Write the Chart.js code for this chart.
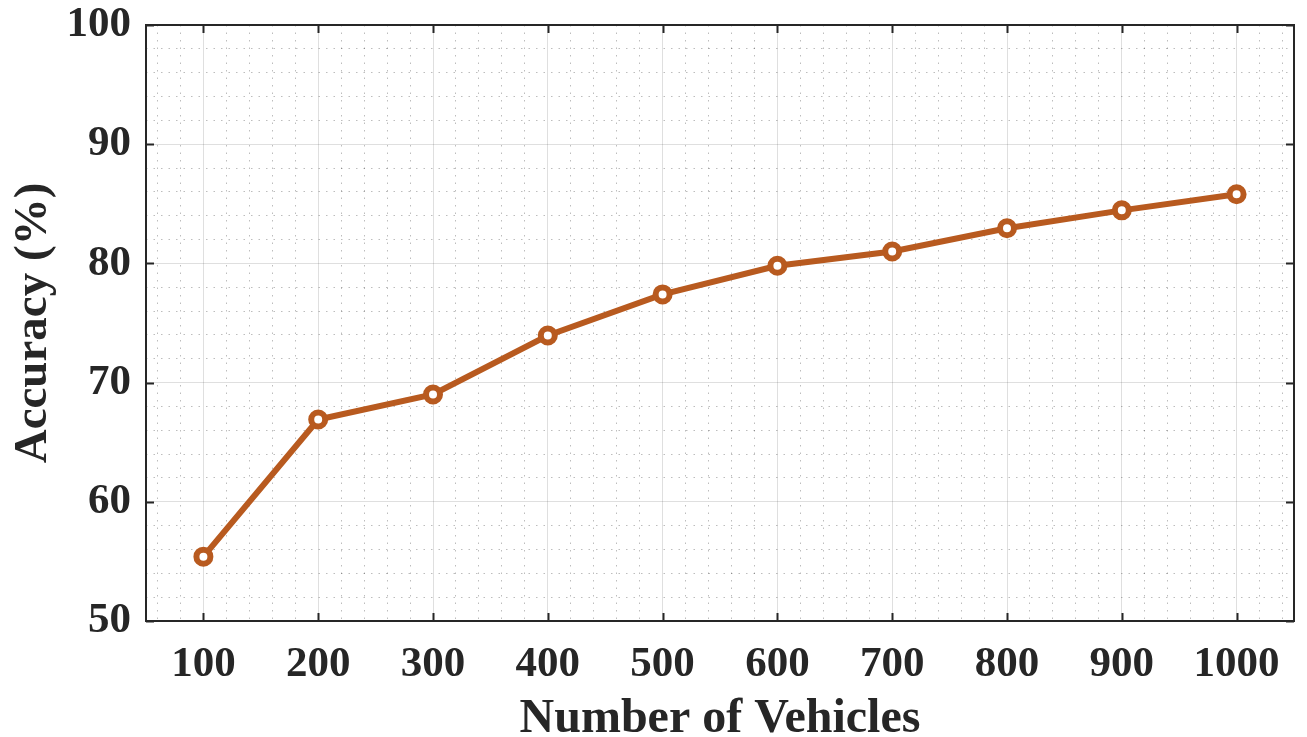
<!DOCTYPE html>
<html><head><meta charset="utf-8">
<script src="https://cdn.jsdelivr.net/npm/chart.js@4/dist/chart.umd.min.js"></script>
<style>html,body{margin:0;padding:0;background:#fff}#wrap{width:1307px;height:737px}</style>
</head><body><div id="wrap"><canvas id="c" width="1307" height="737"></canvas></div>
<script>
const vehicles = [100,200,300,400,500,600,700,800,900,1000];
const accuracy = [55.4,66.9,69.0,73.95,77.4,79.8,81.0,82.95,84.45,85.8];
const xTickLabels = [100,200,300,400,500,600,700,800,900,1000];
const yTickLabels = [50,60,70,80,90,100];
const xTitle = 'Number of Vehicles';
const yTitle = 'Accuracy (%)';

const INK = '#262626';
const LINE = '#B85A1F';
const FONT = 'Liberation Serif';

const boxPlugin = {
  id: 'box',
  beforeDatasetsDraw(chart) {
    const {ctx, chartArea: a, scales} = chart;
    ctx.save();
    ctx.strokeStyle = INK;
    ctx.lineWidth = 2;
    ctx.beginPath();
    const tl = 8;
    xTickLabels.forEach(v => {
      const px = Math.round(scales.x.getPixelForValue(v)) + 0.5;
      ctx.moveTo(px, a.bottom); ctx.lineTo(px, a.bottom - tl);
      ctx.moveTo(px, a.top); ctx.lineTo(px, a.top + tl);
    });
    yTickLabels.forEach(v => {
      const py = Math.round(scales.y.getPixelForValue(v)) + 0.5;
      ctx.moveTo(a.left, py); ctx.lineTo(a.left + tl, py);
      ctx.moveTo(a.right, py); ctx.lineTo(a.right - tl, py);
    });
    ctx.stroke();
    ctx.strokeRect(a.left, a.top, a.right - a.left, a.bottom - a.top);
    ctx.restore();
  }
};

new Chart(document.getElementById('c'), {
  type: 'line',
  data: {
    datasets: [{
      data: vehicles.map((v, i) => ({x: v, y: accuracy[i]})),
      borderColor: LINE,
      borderWidth: 6,
      pointRadius: 7,
      pointBorderWidth: 6,
      pointBackgroundColor: '#ffffff',
      pointBorderColor: LINE,
      tension: 0
    }]
  },
  options: {
    responsive: false,
    animation: false,
    layout: {padding: {top: 25, right: 5, left: 0, bottom: 0}},
    plugins: {legend: {display: false}, tooltip: {enabled: false}},
    scales: {
      x: {
        type: 'linear', min: 50, max: 1050,
        afterBuildTicks(s) { const t = []; for (let v = 60; v <= 1040; v += 20) t.push({value: v}); s.ticks = t; },
        afterFit(s) { s.height = 116; s.paddingLeft = 0; s.paddingRight = 0; },
        grid: {
          drawTicks: false,
          color: c => (c.tick && c.tick.value % 100 === 0) ? 'rgba(38,38,38,0.15)' : 'rgba(38,38,38,0.3)',
          lineWidth: 1
        },
        border: {display: false, dash: c => (c.tick && c.tick.value % 100 === 0) ? [] : [1.5, 6]},
        ticks: {
          autoSkip: false, maxRotation: 0, padding: 22,
          color: INK, font: {family: FONT, size: 43, weight: 'bold', lineHeight: 1},
          callback: v => (v % 100 === 0 && xTickLabels.includes(v)) ? String(v) : ''
        },
        title: {display: true, text: xTitle, color: INK, font: {family: FONT, size: 48, weight: 'bold', lineHeight: 1}, padding: {top: 0, bottom: -7}}
      },
      y: {
        type: 'linear', min: 50, max: 100,
        afterBuildTicks(s) { const t = []; for (let v = 50; v <= 100; v += 2) t.push({value: v}); s.ticks = t; },
        afterFit(s) { s.width = 146; s.paddingTop = 0; s.paddingBottom = 0; },
        grid: {
          drawTicks: false,
          color: c => (c.tick && c.tick.value % 10 === 0) ? 'rgba(38,38,38,0.15)' : 'rgba(38,38,38,0.3)',
          lineWidth: 1
        },
        border: {display: false, dash: c => (c.tick && c.tick.value % 10 === 0) ? [] : [1.5, 6]},
        ticks: {
          autoSkip: false, padding: 15,
          color: INK, font: {family: FONT, size: 43, weight: 'bold', lineHeight: 1},
          callback: v => yTickLabels.includes(v) ? String(v) : ''
        },
        title: {display: true, text: yTitle, color: INK, font: {family: FONT, size: 47, weight: 'bold', lineHeight: 1}, padding: {top: 10, bottom: 0}}
      }
    }
  },
  plugins: [boxPlugin]
});
</script>
</body></html>
